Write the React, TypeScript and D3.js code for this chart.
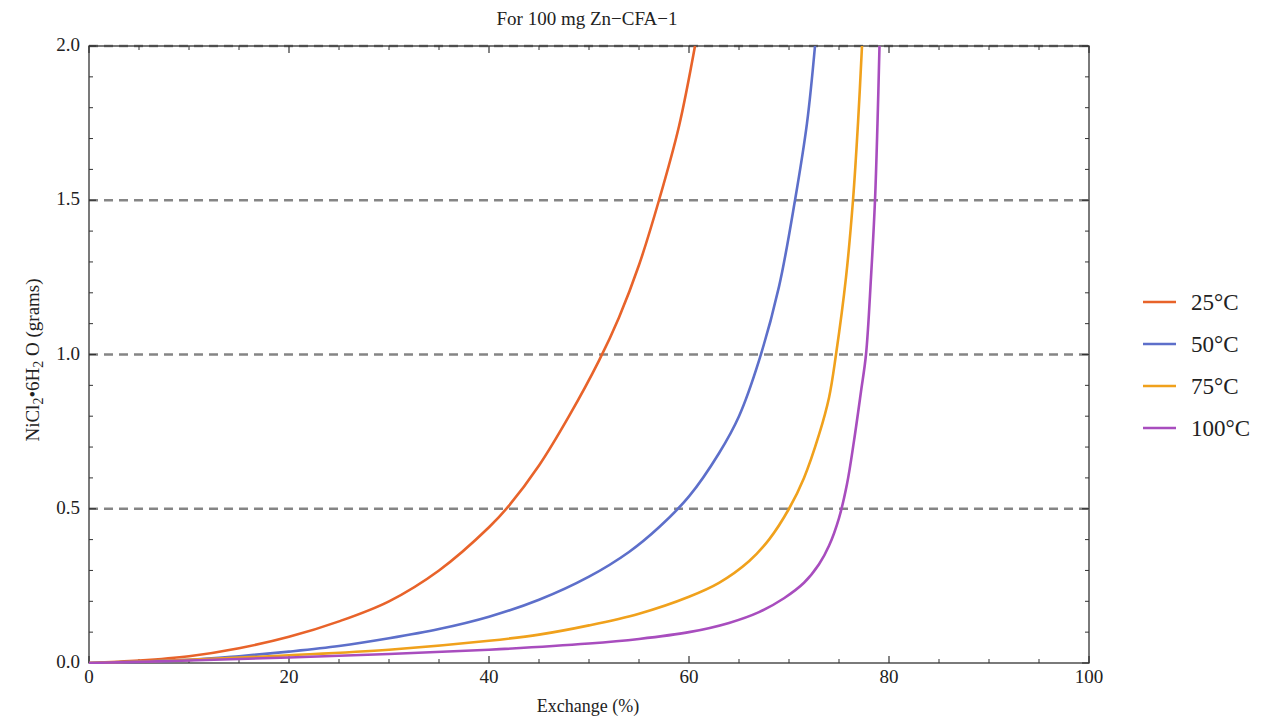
import React from "react";
import * as d3 from "d3";

const title = "For 100 mg Zn\u2212CFA\u22121";
const xLabel = "Exchange (%)";
const seriesNames = ["25\u00B0C", "50\u00B0C", "75\u00B0C", "100\u00B0C"];
const seriesColors = ["#E8632A", "#5D6FCA", "#F0A11C", "#A84DBE"];

const x25 = [0, 5, 10, 15, 20, 25, 30, 35, 40, 42, 45, 48, 51, 53, 55, 57, 59, 60.6];
const y25 = [0, 0.008, 0.022, 0.048, 0.085, 0.135, 0.2, 0.3, 0.44, 0.51, 0.64, 0.8, 0.98, 1.12, 1.29, 1.5, 1.74, 2.0];

const x50 = [0, 10, 15, 20, 25, 30, 35, 40, 45, 50, 54, 57, 60, 63, 65, 67, 69, 70.6, 71.8, 72.6];
const y50 = [0, 0.01, 0.022, 0.037, 0.055, 0.08, 0.11, 0.15, 0.205, 0.28, 0.36, 0.44, 0.54, 0.68, 0.8, 0.98, 1.22, 1.5, 1.75, 2.0];

const x75 = [0, 10, 20, 30, 40, 45, 50, 55, 60, 63, 66, 68, 70, 71.5, 73, 74, 74.7, 75.7, 76.4, 76.9, 77.3];
const y75 = [0, 0.01, 0.025, 0.043, 0.072, 0.092, 0.122, 0.16, 0.215, 0.26, 0.33, 0.4, 0.5, 0.6, 0.74, 0.86, 1.0, 1.25, 1.5, 1.75, 2.0];

const x100 = [0, 10, 20, 30, 40, 50, 55, 60, 64, 67, 69.5, 71.5, 73, 74, 75, 75.8, 76.5, 77.2, 77.7, 78.2, 78.6, 78.85, 79.05];
const y100 = [0, 0.008, 0.018, 0.029, 0.043, 0.063, 0.078, 0.1, 0.13, 0.165, 0.21, 0.26, 0.32, 0.38, 0.47, 0.58, 0.72, 0.88, 1.0, 1.25, 1.5, 1.75, 2.0];

const xMajor = [0, 20, 40, 60, 80, 100];
const yMajor = [0, 0.5, 1.0, 1.5, 2.0];
const gridValues = [0.5, 1.0, 1.5, 2.0];

const seriesX = [x25, x50, x75, x100];
const seriesY = [y25, y50, y75, y100];

export default function App() {
  const W = 1272, H = 717;
  const L = 89, R = 1089, T = 46, B = 663;
  const xs = d3.scaleLinear().domain([0, 100]).range([L, R]);
  const ys = d3.scaleLinear().domain([0, 2]).range([B, T]);
  const font = "'Liberation Serif', 'DejaVu Serif', serif";
  const xMinor = d3.range(0, 101, 5).filter((v) => v % 20 !== 0);
  const yMinor = d3.range(0, 21, 1).map((v) => v / 10).filter((v) => Math.round(v * 10) % 5 !== 0);
  const line = d3
    .line<[number, number]>()
    .x((d) => xs(d[0]))
    .y((d) => ys(d[1]))
    .curve(d3.curveCatmullRom.alpha(0.5));
  const frame = "#333";
  const maj = 7, mnr = 4;
  return (
    <svg width={W} height={H} style={{ position: "absolute", left: 0, top: 0, background: "#fff" }}>
      <defs>
        <clipPath id="plotclip">
          <rect x={L} y={T - 1} width={R - L} height={B - T + 2} />
        </clipPath>
      </defs>
      <rect x={0} y={0} width={W} height={H} fill="#fff" />
      <text x={587} y={25} textAnchor="middle" fontFamily={font} fontSize={19} fill="#222">
        {title}
      </text>
      {gridValues.map((v) => (
        <line key={"g" + v} x1={L} x2={R} y1={ys(v)} y2={ys(v)} stroke="#858585" strokeWidth={2.4} strokeDasharray="9,6" />
      ))}
      <rect x={L} y={T} width={R - L} height={B - T} fill="none" stroke={frame} strokeWidth={1.3} />
      {xMajor.map((v) => (
        <g key={"xm" + v}>
          <line x1={xs(v)} x2={xs(v)} y1={B} y2={B - maj} stroke={frame} strokeWidth={1.2} />
          <line x1={xs(v)} x2={xs(v)} y1={T} y2={T + maj} stroke={frame} strokeWidth={1.2} />
          <text x={xs(v)} y={B + 20} textAnchor="middle" fontFamily={font} fontSize={19} fill="#222">
            {v}
          </text>
        </g>
      ))}
      {xMinor.map((v) => (
        <g key={"xn" + v}>
          <line x1={xs(v)} x2={xs(v)} y1={B} y2={B - mnr} stroke={frame} strokeWidth={1} />
          <line x1={xs(v)} x2={xs(v)} y1={T} y2={T + mnr} stroke={frame} strokeWidth={1} />
        </g>
      ))}
      {yMajor.map((v) => (
        <g key={"ym" + v}>
          <line x1={L} x2={L + maj} y1={ys(v)} y2={ys(v)} stroke={frame} strokeWidth={1.2} />
          <line x1={R} x2={R - maj} y1={ys(v)} y2={ys(v)} stroke={frame} strokeWidth={1.2} />
          <text x={L - 9} y={ys(v) + 5} textAnchor="end" fontFamily={font} fontSize={19} fill="#222">
            {v.toFixed(1)}
          </text>
        </g>
      ))}
      {yMinor.map((v) => (
        <g key={"yn" + v}>
          <line x1={L} x2={L + mnr} y1={ys(v)} y2={ys(v)} stroke={frame} strokeWidth={1} />
          <line x1={R} x2={R - mnr} y1={ys(v)} y2={ys(v)} stroke={frame} strokeWidth={1} />
        </g>
      ))}
      <g clipPath="url(#plotclip)">
        {seriesX.map((xv, i) => {
          const pts = xv.map((x, j) => [x, seriesY[i][j]] as [number, number]);
          return <path key={"s" + i} d={line(pts) || ""} fill="none" stroke={seriesColors[i]} strokeWidth={2.6} />;
        })}
      </g>
      <text x={588} y={712} textAnchor="middle" fontFamily={font} fontSize={18} fill="#222">
        {xLabel}
      </text>
      <text transform={`translate(39, 360) rotate(-90)`} textAnchor="middle" fontFamily={font} fontSize={19} fill="#222">
        NiCl
        <tspan baselineShift="-25%" fontSize={14}>2</tspan>
        <tspan>{"\u20226H"}</tspan>
        <tspan baselineShift="-25%" fontSize={14}>2</tspan>
        <tspan>{" O (grams)"}</tspan>
      </text>
      {seriesNames.map((n, i) => {
        const yy = 302 + i * 42;
        return (
          <g key={"l" + i}>
            <line x1={1143} x2={1176} y1={yy} y2={yy} stroke={seriesColors[i]} strokeWidth={2.6} />
            <text x={1191} y={yy + 8} fontFamily={font} fontSize={23} fill="#222">
              {n}
            </text>
          </g>
        );
      })}
    </svg>
  );
}
